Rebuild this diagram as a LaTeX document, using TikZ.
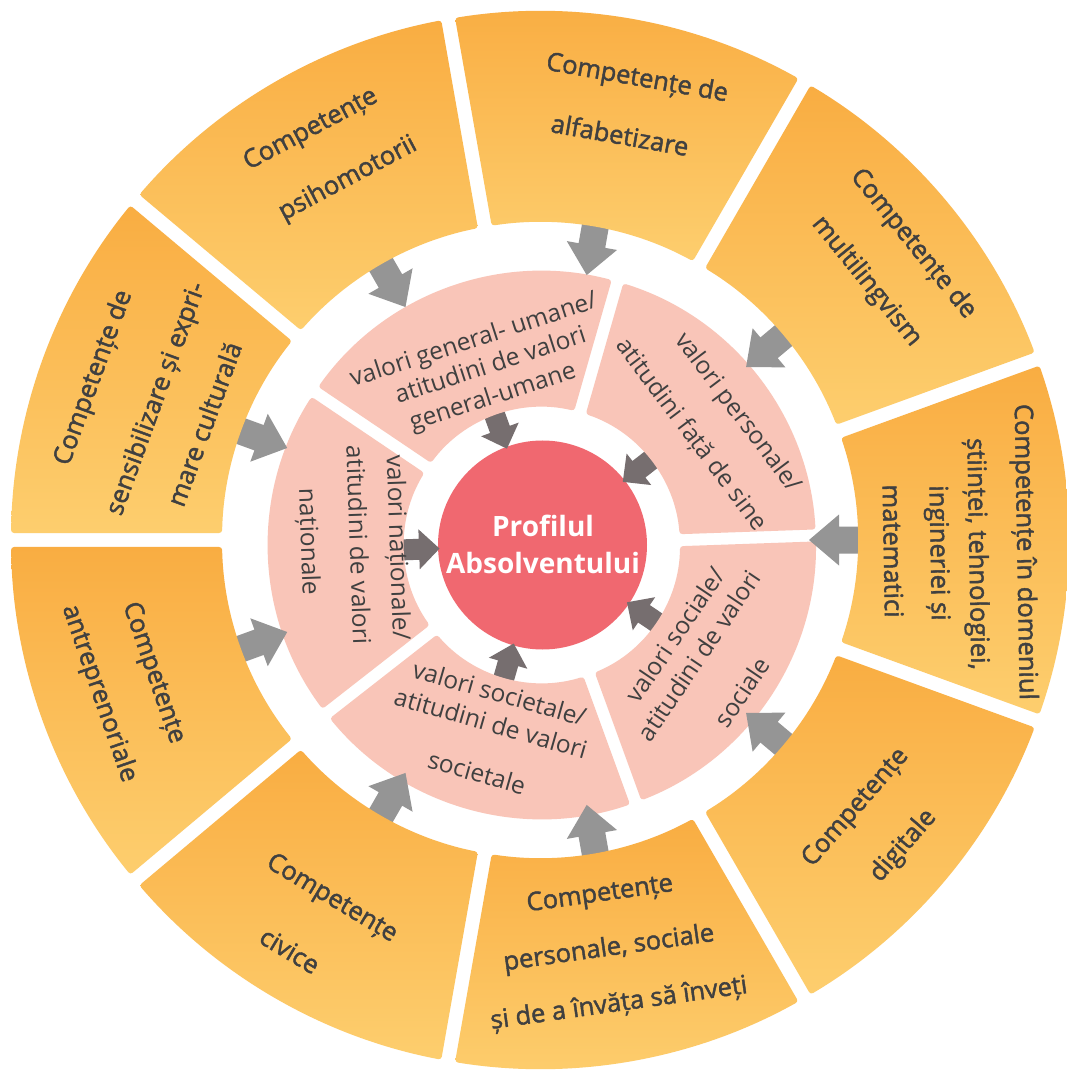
\documentclass[tikz,border=0pt]{standalone}
\usepackage{fontspec}
\setmainfont{Open Sans}
\newfontfamily\semib{Open Sans}[FakeBold=1.7]
\definecolor{orTop}{HTML}{F9AD42}
\definecolor{orBot}{HTML}{FDCE6E}
\definecolor{pinkseg}{HTML}{F9C5B8}
\definecolor{redc}{HTML}{F06870}
\definecolor{arrOut}{HTML}{959595}
\definecolor{arrIn}{HTML}{766E6F}
\definecolor{txt}{HTML}{404040}
\newcommand\hg{7}
\newcommand\ringseg[6]{%
  \pgfmathsetmacro\segA{#3+asin(\hg/#6)}%
  \pgfmathsetmacro\segB{#4-asin(\hg/#6)}%
  \pgfmathsetmacro\segC{#4-asin(\hg/#5)}%
  \pgfmathsetmacro\segD{#3+asin(\hg/#5)}%
  \path[#1,shift={#2}] (\segA:#6) arc[start angle=\segA,end angle=\segB,radius=#6]
    -- (\segC:#5) arc[start angle=\segC,end angle=\segD,radius=#5] -- cycle;}
\newcommand\outarrow[1]{\path[oarrow,rotate=#1] (322,13.5) -- (299,13.5) -- (299,25.5) -- (269,0) -- (299,-25.5) -- (299,-13.5) -- (322,-13.5) -- cycle;}
\newcommand\inarrow[1]{\path[iarrow,shift={(2,-5)},rotate=#1] (141,10.5) -- (123,10.5) -- (123,20) -- (102.5,0) -- (123,-20) -- (123,-10.5) -- (141,-10.5) -- cycle;}
\begin{document}
\begin{tikzpicture}[x=1pt,y=1pt,
  oseg/.style={top color=orTop,bottom color=orBot,rounded corners=3pt},
  iseg/.style={fill=pinkseg,rounded corners=3pt},
  oarrow/.style={fill=arrOut},
  iarrow/.style={fill=arrIn},
  otxt/.style={text=txt,font=\semib\fontsize{25.5}{30}\selectfont,inner sep=0pt},
  itxt/.style={text=txt,font=\fontsize{24.5}{28}\selectfont,inner sep=0pt},
  ctxt/.style={text=white,font=\bfseries\fontsize{28}{37}\selectfont,align=center,inner sep=0pt}]
\useasboundingbox (-540,-531) rectangle (527,540);
\clip (-540,-531) rectangle (527,540);
\fill[white] (-540,-531) rectangle (527,540);

% centre
\fill[redc] (2.5,-5) circle[radius=104.5];
\node[ctxt] (centre) at (3,-4) {Profilul\\Absolventului};

% inner arrows (towards centre)
\foreach \a in {38,110,182,254,326} {\inarrow{\a}}

% inner ring
\renewcommand\hg{6}
\foreach \c in {38,110,182,254,326} {\ringseg{iseg}{(2,-5)}{\c-36}{\c+36}{138}{274}}

% outer arrows
\foreach \a in {80,40,0,-40,-80,-120,-160,160,120} {\outarrow{\a}}

% outer ring
\renewcommand\hg{7}
\foreach \c in {80,40,0,-40,-80,-120,-160,160,120} {\ringseg{oseg}{(0,0)}{\c-20}{\c+20}{318}{529}}

% outer texts
\node[otxt,rotate=-10] (alf1) at (97,461) {Competențe de};
\node[otxt,rotate=-10] (alf2) at (80,405.5) {alfabetizare};
\node[otxt,rotate=28] (psi1) at (-229,410) {Competențe};
\node[otxt,rotate=28] (psi2) at (-192,361) {psihomotorii};
\node[otxt,rotate=-51] (mul1) at (373,296) {Competențe de};
\node[otxt,rotate=-51] (mul2) at (326.5,258.5) {multilingvism};
\node[otxt,rotate=-89] (dom1) at (484,-12) {Competențe în domeniul};
\node[otxt,rotate=-89] (dom2) at (436,-14) {științei, tehnologiei,};
\node[otxt,rotate=-89] (dom3) at (397,-13) {ingineriei și};
\node[otxt,rotate=-89] (dom4) at (353,-11) {matematici};
\node[otxt,rotate=49] (dig1) at (316,-268) {Competențe};
\node[otxt,rotate=49] (dig2) at (363.5,-306) {digitale};
\node[otxt,rotate=8] (per1) at (60,-355) {Competențe};
\node[otxt,rotate=8] (per2) at (69,-409) {personale, sociale};
\node[otxt,rotate=8] (per3) at (79,-464) {și de a învăța să înveți};
\node[otxt,rotate=-31] (civ1) at (-208.5,-359) {Competențe};
\node[otxt,rotate=-31] (civ2) at (-250,-410.5) {civice};
\node[otxt,rotate=-71] (ant1) at (-387,-133) {Competențe};
\node[otxt,rotate=-71] (ant2) at (-441,-153.5) {antreprenoriale};
\node[otxt,rotate=70] (sen1) at (-446,162) {Competențe de};
\node[otxt,rotate=70] (sen2) at (-383,141) {sensibilizare și expri-};
\node[otxt,rotate=70] (sen3) at (-336,116) {mare culturală};

% inner texts
\node[itxt,rotate=18] (gu1) at (-66,199) {valori general- umane/};
\node[itxt,rotate=18] (gu2) at (-50,176) {atitudini de valori};
\node[itxt,rotate=18] (gu3) at (-47,142) {general-umane};
\node[itxt,rotate=-53] (vp1) at (197,127) {valori personale/};
\node[itxt,rotate=-53] (vp2) at (151,105) {atitudini față de sine};
\node[itxt,rotate=-88] (vn1) at (-143.5,-7.5) {valori naționale/};
\node[itxt,rotate=-88] (vn2) at (-181,-5) {atitudini de valori};
\node[itxt,rotate=-88] (vn3) at (-232.5,-2) {naționale};
\node[itxt,rotate=-16] (vst1) at (-40.4,-153) {valori societale/};
\node[itxt,rotate=-16] (vst2) at (-49,-183) {atitudini de valori};
\node[itxt,rotate=-16] (vst3) at (-63,-232.5) {societale};
\node[itxt,rotate=56] (vs1) at (135,-95) {valori sociale/};
\node[itxt,rotate=56] (vs2) at (159,-115.5) {atitudini de valori};
\node[itxt,rotate=56] (vs3) at (202,-152) {sociale};
\end{tikzpicture}
\end{document}
